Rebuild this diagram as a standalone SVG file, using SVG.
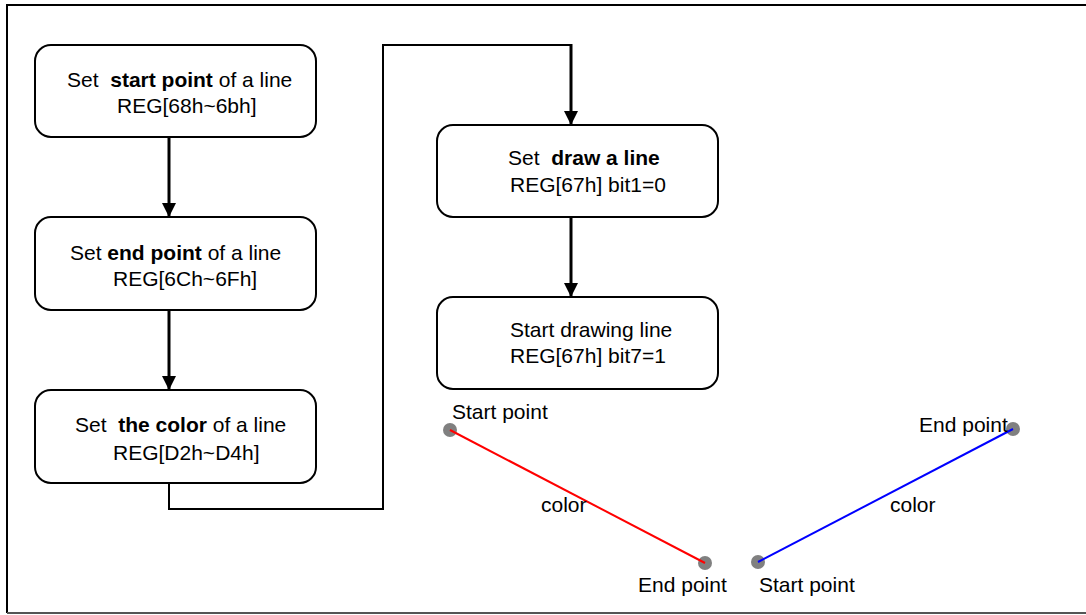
<svg xmlns="http://www.w3.org/2000/svg" width="1086" height="615" viewBox="0 0 1086 615">
<style>
.box{fill:#fff;stroke:#000;stroke-width:2}
.t{font-family:"Liberation Sans",Arial,sans-serif;font-size:21px;fill:#000}
.b{font-weight:bold}
.conn{fill:none;stroke:#000;stroke-width:3}
.thin{fill:none;stroke:#000;stroke-width:2}
.dot{fill:#808080}
</style>
<defs>
<marker id="ah" markerUnits="userSpaceOnUse" markerWidth="16" markerHeight="16" refX="14" refY="7" orient="auto">
<path d="M0,0 L14,7 L0,14 Z" fill="#000"/>
</marker>
</defs>
<rect width="1086" height="615" fill="#fff"/>
<g id="frame">
<line x1="6" y1="5" x2="1086" y2="5" stroke="#000" stroke-width="2"/>
<line x1="7" y1="5" x2="7" y2="613" stroke="#000" stroke-width="2"/>
<line x1="7" y1="613" x2="1086" y2="613" stroke="#555" stroke-width="2"/>
</g>
<g id="connectors">
<line class="conn" x1="169" y1="138" x2="169" y2="217" marker-end="url(#ah)"/>
<line class="conn" x1="169" y1="310" x2="169" y2="390" marker-end="url(#ah)"/>
<polyline class="thin" points="169,483 169,509 383,509 383,45 571,45"/>
<line class="conn" x1="571" y1="44" x2="571" y2="125" marker-end="url(#ah)"/>
<line class="conn" x1="571" y1="217" x2="571" y2="297" marker-end="url(#ah)"/>
</g>
<g id="n1">
<rect class="box" x="35" y="45" width="281" height="92" rx="16"/>
<text class="t" x="67" y="87" xml:space="preserve">Set  <tspan class="b">start point</tspan> of a line</text>
<text class="t" x="117" y="113">REG[68h~6bh]</text>
</g>
<g id="n2">
<rect class="box" x="35" y="217" width="281" height="93" rx="16"/>
<text class="t" x="70" y="260">Set <tspan class="b">end point</tspan> of a line</text>
<text class="t" x="113" y="286">REG[6Ch~6Fh]</text>
</g>
<g id="n3">
<rect class="box" x="35" y="390" width="281" height="93" rx="16"/>
<text class="t" x="75" y="432" xml:space="preserve">Set  <tspan class="b">the color</tspan> of a line</text>
<text class="t" x="113" y="460">REG[D2h~D4h]</text>
</g>
<g id="n4">
<rect class="box" x="437" y="125" width="281" height="92" rx="16"/>
<text class="t" x="508" y="165" xml:space="preserve">Set  <tspan class="b">draw a line</tspan></text>
<text class="t" x="510" y="192">REG[67h] bit1=0</text>
</g>
<g id="n5">
<rect class="box" x="437" y="297" width="281" height="92" rx="16"/>
<text class="t" x="510" y="337">Start drawing line</text>
<text class="t" x="510" y="363">REG[67h] bit7=1</text>
</g>
<g id="example-red">
<circle class="dot" cx="450" cy="430" r="7"/>
<circle class="dot" cx="705" cy="563" r="7"/>
<line x1="450" y1="430" x2="705" y2="563" stroke="#f00" stroke-width="2"/>
<text class="t" x="452" y="419">Start point</text>
<text class="t" x="541" y="512">color</text>
<text class="t" x="638" y="592">End point</text>
</g>
<g id="example-blue">
<circle class="dot" cx="758" cy="562" r="7"/>
<circle class="dot" cx="1013" cy="429" r="7"/>
<line x1="758" y1="562" x2="1013" y2="429" stroke="#00f" stroke-width="2"/>
<text class="t" x="919" y="432">End point</text>
<text class="t" x="890" y="512">color</text>
<text class="t" x="759" y="592">Start point</text>
</g>
</svg>
